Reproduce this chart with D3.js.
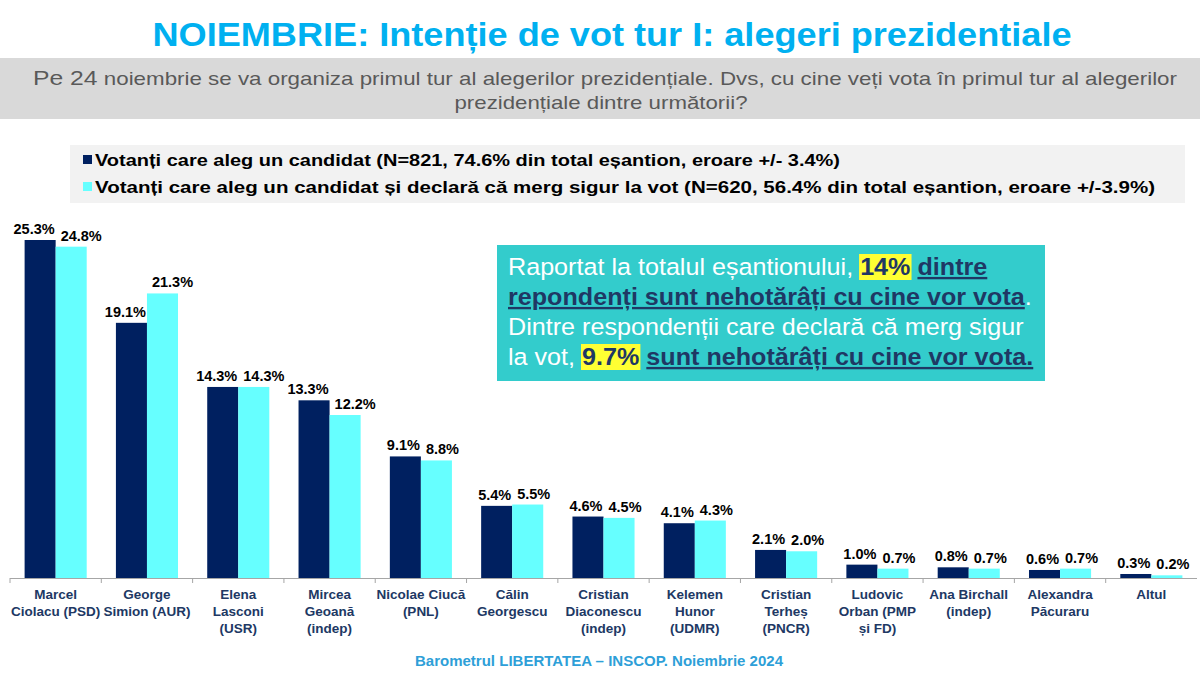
<!DOCTYPE html>
<html><head><meta charset="utf-8">
<script src="https://cdn.jsdelivr.net/npm/d3@7/dist/d3.min.js"></script>
<style>
html,body{margin:0;padding:0;background:#fff;}
svg{display:block;font-family:"Liberation Sans",Arial,sans-serif;}
</style></head>
<body>
<svg id="c" width="1200" height="675"></svg>
<script>
const categories = [
  ["Marcel","Ciolacu (PSD)"],
  ["George","Simion (AUR)"],
  ["Elena","Lasconi","(USR)"],
  ["Mircea","Geoană","(indep)"],
  ["Nicolae Ciucă","(PNL)"],
  ["Călin","Georgescu"],
  ["Cristian","Diaconescu","(indep)"],
  ["Kelemen","Hunor","(UDMR)"],
  ["Cristian","Terheș","(PNCR)"],
  ["Ludovic","Orban (PMP","și FD)"],
  ["Ana Birchall","(indep)"],
  ["Alexandra","Păcuraru"],
  ["Altul"]
];
const seriesNames = [
  "Votanți care aleg un candidat (N=821, 74.6% din total eșantion, eroare +/- 3.4%)",
  "Votanți care aleg un candidat și declară că merg sigur la vot (N=620, 56.4% din total eșantion, eroare +/-3.9%)"
];
const allVoters = [25.3, 19.1, 14.3, 13.3, 9.1, 5.4, 4.6, 4.1, 2.1, 1.0, 0.8, 0.6, 0.3];
const sureVoters = [24.8, 21.3, 14.3, 12.2, 8.8, 5.5, 4.5, 4.3, 2.0, 0.7, 0.7, 0.7, 0.2];
const colors = ["#002060", "#66FFFF"];

const svg = d3.select("#c");
const keys = categories.map((c,i)=>String(i));

// Title
svg.append("text").attr("x",612).attr("y",46).attr("text-anchor","middle")
  .attr("font-size",33).attr("font-weight","bold").attr("fill","#00B0F0")
  .attr("textLength",919).attr("lengthAdjust","spacingAndGlyphs")
  .text("NOIEMBRIE: Intenție de vot tur I: alegeri prezidentiale");

// Subtitle band
svg.append("rect").attr("x",0).attr("y",58).attr("width",1200).attr("height",61).attr("fill","#D9D9D9");
const st1 = svg.append("text").attr("x",33).attr("y",85).attr("fill","#595959").attr("font-size",19)
  .attr("textLength",1144).attr("lengthAdjust","spacingAndGlyphs");
st1.append("tspan").attr("font-size",21).text("Pe 24");
st1.append("tspan").text(" noiembrie se va organiza primul tur al alegerilor prezidențiale. Dvs, cu cine veți vota în primul tur al alegerilor");
svg.append("text").attr("x",601).attr("y",109).attr("text-anchor","middle").attr("fill","#595959").attr("font-size",19)
  .attr("textLength",293).attr("lengthAdjust","spacingAndGlyphs")
  .text("prezidențiale dintre următorii?");

// Legend
svg.append("rect").attr("x",70).attr("y",145).attr("width",1115).attr("height",58).attr("fill","#F2F2F2");
const legW = [745, 1060];
seriesNames.forEach((s,i)=>{
  const y = 160 + i*27;
  svg.append("rect").attr("x",83).attr("y",y-5).attr("width",9).attr("height",9).attr("fill",colors[i]);
  svg.append("text").attr("x",95).attr("y",y+6).attr("font-size",16.5).attr("font-weight","bold").attr("fill","#000")
    .attr("textLength",legW[i]).attr("lengthAdjust","spacingAndGlyphs").text(s);
});

// Scales
const x = d3.scaleBand().domain(keys).range([10,1197]).paddingInner(0.32).paddingOuter(0.16);
const xs = d3.scaleBand().domain(["0","1"]).range([0,x.bandwidth()]);
const y = d3.scaleLinear().domain([0,25.3]).range([578,240]);
const step = x.step();

const g = svg.append("g");
// bars
[allVoters, sureVoters].forEach((vals,si)=>{
  g.selectAll(null).data(vals).enter().append("rect")
    .attr("x",(d,i)=>x(keys[i])+xs(String(si)))
    .attr("y",d=>y(d))
    .attr("width",xs.bandwidth())
    .attr("height",d=>y(0)-y(d))
    .attr("fill",colors[si]);
});
// value labels
allVoters.forEach((d,i)=>{
  g.append("text").attr("x",x(keys[i])+xs("1")-1).attr("y",y(d)-6).attr("text-anchor","end")
    .attr("font-size",14.5).attr("font-weight","bold").attr("fill","#000").text(d.toFixed(1)+"%");
});
sureVoters.forEach((d,i)=>{
  g.append("text").attr("x",x(keys[i])+xs("1")+5).attr("y",y(d)-6).attr("text-anchor","start")
    .attr("font-size",14.5).attr("font-weight","bold").attr("fill","#000").text(d.toFixed(1)+"%");
});

// axis line and ticks at band boundaries
g.append("line").attr("x1",10).attr("x2",1197).attr("y1",y(0)+0.5).attr("y2",y(0)+0.5).attr("stroke","#A6A6A6");
const bounds = keys.map(k=>x(k)-step*x.paddingInner()/2);
bounds.forEach(b=>{
  g.append("line").attr("x1",b).attr("x2",b).attr("y1",y(0)).attr("y2",y(0)+5).attr("stroke","#A6A6A6");
});

// category labels
categories.forEach((lines,i)=>{
  const cx = x(keys[i])+x.bandwidth()/2;
  const t = g.append("text").attr("x",cx).attr("y",599).attr("text-anchor","middle")
    .attr("font-size",13.5).attr("font-weight","bold").attr("fill","#203864");
  lines.forEach((l,j)=>t.append("tspan").attr("x",cx).attr("dy",j===0?0:17).text(l));
});

// Callout box
svg.append("rect").attr("x",497).attr("y",245).attr("width",548).attr("height",136).attr("fill","#33CCCC");
const fs = 23.5;
const dark = "#1F3864";
const cg = svg.append("g").attr("transform","translate(508,0) scale(1.07,1)");
const hlLayer = cg.append("g");
const calloutLines = [
  {y:275, parts:[{t:"Raportat la totalul eșantionului, "},{t:"14%",b:1,c:dark,h:1},{t:" "},{t:"dintre",b:1,c:dark,u:1}]},
  {y:305, parts:[{t:"repondenți sunt nehotărâți cu cine vor vota",b:1,c:dark,u:1},{t:"."}]},
  {y:335, parts:[{t:"Dintre respondenții care declară că merg sigur"}]},
  {y:365, parts:[{t:"la vot, "},{t:"9.7%",b:1,c:dark,h:1},{t:" "},{t:"sunt nehotărâți cu cine vor vota.",b:1,c:dark,u:1}]}
];
calloutLines.forEach(L=>{
  const t = cg.append("text").attr("x",0).attr("y",L.y).attr("font-size",fs);
  L.parts.forEach(p=>{
    const ts = t.append("tspan").text(p.t).attr("fill",p.c||"#fff");
    if(p.b) ts.attr("font-weight","bold");
    if(p.u) ts.attr("text-decoration","underline");
    p.node = ts;
  });
  L.parts.forEach((p,k)=>{
    if(p.h){
      let start = 0;
      for(let q=0;q<k;q++) start += L.parts[q].node.node().getComputedTextLength();
      const w = p.node.node().getComputedTextLength();
      hlLayer.append("rect").attr("x",start-1).attr("y",L.y-21).attr("width",w+2).attr("height",26).attr("fill","#FFFF33");
    }
  });
});

// footer
svg.append("text").attr("x",599).attr("y",666).attr("text-anchor","middle")
  .attr("font-size",14).attr("font-weight","bold").attr("fill","#2E9FD8")
  .attr("textLength",368).attr("lengthAdjust","spacingAndGlyphs")
  .text("Barometrul LIBERTATEA – INSCOP. Noiembrie 2024");
</script>
</body></html>
